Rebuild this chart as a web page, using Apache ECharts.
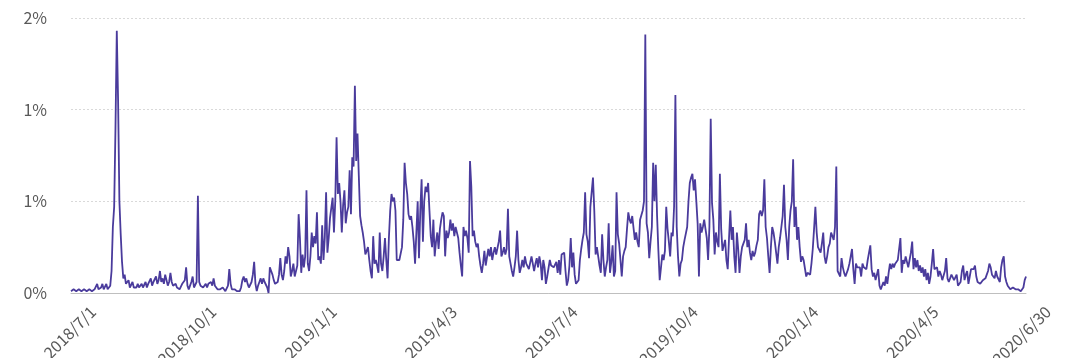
<!DOCTYPE html>
<html><head><meta charset="utf-8">
<script src="https://cdn.jsdelivr.net/npm/echarts@6/dist/echarts.min.js"></script>
<style>html,body{margin:0;padding:0;background:#fff}#c{width:1080px;height:358px}</style>
</head><body><div id="c"></div>
<script>
// tick labels shown on the category axis
const tickLabels = ['2018/7/1','2018/10/1','2019/1/1','2019/4/3','2019/7/4','2019/10/4','2020/1/4','2020/4/5','2020/6/30'];
// y-axis ticks (percent)
const yMin = 0, yMax = 1.5, yStep = 0.5;
// daily series values (percent), 2018/7/1 .. 2020/6/30
const rate = [
0.01,0.01,0.02,0.01,0.01,0.02,0.02,0.01,0.01,0.01,
0.02,0.01,0.01,0.01,0.02,0.01,0.01,0.02,0.02,0.03,
0.05,0.02,0.02,0.03,0.05,0.02,0.03,0.05,0.02,0.03,
0.04,0.12,0.36,0.47,0.9,1.43,1.05,0.5,0.32,0.17,
0.08,0.1,0.05,0.04,0.07,0.03,0.04,0.06,0.03,0.04,
0.03,0.05,0.03,0.02,0.05,0.03,0.04,0.06,0.03,0.05,
0.04,0.08,0.04,0.06,0.05,0.09,0.05,0.07,0.12,0.06,
0.08,0.05,0.1,0.07,0.04,0.06,0.11,0.06,0.04,0.03,
0.05,0.03,0.04,0.02,0.03,0.05,0.04,0.07,0.14,0.04,
0.02,0.04,0.06,0.09,0.03,0.02,0.06,0.53,0.06,0.04,
0.05,0.03,0.04,0.05,0.03,0.05,0.04,0.06,0.04,0.08,
0.04,0.03,0.02,0.03,0.02,0.01,0.03,0.02,0.01,0.02,
0.04,0.13,0.05,0.02,0.01,0.02,0.01,0.01,0.02,0.01,
0.03,0.07,0.09,0.06,0.08,0.05,0.03,0.04,0.06,0.1,
0.17,0.05,0.01,0.04,0.06,0.08,0.05,0.08,0.06,0.07,
0.03,0.0,0.14,0.12,0.1,0.07,0.05,0.05,0.06,0.1,
0.19,0.1,0.07,0.12,0.2,0.16,0.25,0.2,0.09,0.12,
0.16,0.09,0.12,0.15,0.43,0.3,0.11,0.21,0.14,0.2,
0.56,0.16,0.12,0.2,0.33,0.25,0.31,0.27,0.44,0.18,
0.2,0.16,0.37,0.18,0.3,0.55,0.22,0.3,0.41,0.42,
0.52,0.33,0.5,0.85,0.54,0.6,0.5,0.33,0.48,0.56,
0.38,0.44,0.47,0.67,0.43,0.74,0.69,1.13,0.72,0.87,
0.64,0.42,0.37,0.33,0.28,0.21,0.23,0.25,0.18,0.12,
0.08,0.31,0.16,0.18,0.15,0.11,0.33,0.16,0.12,0.2,
0.3,0.18,0.08,0.3,0.45,0.54,0.5,0.52,0.45,0.18,
0.18,0.18,0.17,0.25,0.4,0.71,0.6,0.54,0.43,0.4,
0.42,0.36,0.28,0.16,0.33,0.5,0.19,0.45,0.62,0.28,
0.5,0.58,0.55,0.6,0.45,0.31,0.25,0.4,0.2,0.28,
0.33,0.24,0.35,0.4,0.44,0.42,0.2,0.34,0.3,0.33,
0.4,0.34,0.38,0.31,0.36,0.33,0.3,0.22,0.15,0.09,
0.36,0.31,0.34,0.3,0.22,0.72,0.58,0.31,0.34,0.28,
0.25,0.27,0.2,0.15,0.11,0.16,0.23,0.15,0.14,0.24,
0.2,0.25,0.18,0.22,0.25,0.21,0.22,0.28,0.34,0.2,
0.22,0.25,0.21,0.24,0.46,0.2,0.16,0.12,0.09,0.14,
0.2,0.34,0.18,0.11,0.14,0.18,0.14,0.2,0.16,0.16,
0.13,0.13,0.2,0.16,0.12,0.16,0.19,0.14,0.2,0.16,
0.07,0.18,0.14,0.05,0.09,0.09,0.18,0.15,0.16,0.14,
0.13,0.17,0.11,0.18,0.1,0.21,0.22,0.22,0.12,0.04,
0.07,0.15,0.3,0.14,0.22,0.1,0.05,0.05,0.07,0.18,
0.24,0.29,0.33,0.55,0.32,0.28,0.19,0.47,0.55,0.63,
0.45,0.21,0.25,0.2,0.15,0.11,0.32,0.18,0.09,0.14,
0.18,0.38,0.11,0.17,0.26,0.09,0.12,0.55,0.32,0.27,
0.27,0.09,0.2,0.23,0.25,0.35,0.44,0.4,0.38,0.42,
0.42,0.29,0.33,0.28,0.25,0.4,0.41,0.45,0.5,1.41,
0.38,0.33,0.19,0.28,0.36,0.71,0.5,0.7,0.42,0.23,
0.07,0.14,0.21,0.18,0.23,0.47,0.35,0.28,0.2,0.33,
0.31,0.47,1.08,0.36,0.2,0.09,0.16,0.18,0.25,0.29,
0.29,0.36,0.5,0.6,0.63,0.65,0.56,0.62,0.5,0.38,
0.09,0.38,0.33,0.36,0.4,0.35,0.3,0.18,0.36,0.95,
0.49,0.4,0.21,0.33,0.28,0.25,0.65,0.35,0.23,0.26,
0.29,0.18,0.13,0.3,0.45,0.29,0.36,0.2,0.11,0.33,
0.24,0.11,0.2,0.25,0.24,0.29,0.38,0.25,0.29,0.22,
0.18,0.23,0.2,0.22,0.26,0.29,0.43,0.45,0.42,0.45,
0.62,0.36,0.3,0.2,0.11,0.25,0.36,0.33,0.28,0.22,
0.16,0.25,0.3,0.36,0.42,0.59,0.36,0.29,0.18,0.36,
0.45,0.5,0.73,0.36,0.47,0.29,0.36,0.25,0.17,0.2,
0.18,0.19,0.09,0.11,0.1,0.1,0.16,0.24,0.35,0.47,
0.33,0.25,0.24,0.22,0.27,0.33,0.2,0.16,0.2,0.25,
0.27,0.33,0.31,0.29,0.36,0.69,0.12,0.11,0.09,0.19,
0.14,0.11,0.09,0.09,0.13,0.16,0.2,0.24,0.13,0.05,
0.16,0.14,0.13,0.14,0.09,0.16,0.14,0.14,0.13,0.18,
0.22,0.26,0.13,0.09,0.11,0.07,0.07,0.13,0.04,0.02,
0.02,0.06,0.04,0.09,0.05,0.11,0.16,0.13,0.16,0.14,
0.16,0.15,0.18,0.24,0.3,0.11,0.18,0.16,0.2,0.17,
0.14,0.18,0.22,0.28,0.13,0.19,0.14,0.18,0.12,0.15,
0.11,0.14,0.09,0.13,0.07,0.11,0.05,0.09,0.16,0.24,
0.13,0.12,0.14,0.09,0.12,0.1,0.07,0.08,0.12,0.19,
0.08,0.06,0.06,0.1,0.09,0.07,0.07,0.1,0.04,0.05,
0.06,0.12,0.15,0.07,0.1,0.12,0.05,0.09,0.13,0.12,
0.13,0.15,0.09,0.06,0.05,0.05,0.04,0.07,0.06,0.08,
0.1,0.12,0.16,0.14,0.1,0.09,0.08,0.12,0.09,0.09,
0.06,0.14,0.18,0.2,0.09,0.06,0.04,0.03,0.02,0.02,
0.03,0.03,0.02,0.03,0.02,0.02,0.01,0.01,0.03,0.07,
0.09
];
// daily categories from the first date
const startDate = [2018, 7, 1];
const categories = [];
(function () {
  let t = Date.UTC(startDate[0], startDate[1] - 1, startDate[2]);
  for (let i = 0; i < rate.length; i++) {
    const d = new Date(t);
    categories.push(d.getUTCFullYear() + '/' + (d.getUTCMonth() + 1) + '/' + d.getUTCDate());
    t += 86400000;
  }
})();

const FONT = 'Noto Sans CJK SC';
const chart = echarts.init(document.getElementById('c'), null, { renderer: 'canvas' });
const gL = 71, gR = 54, gT = 18, gB = 65, labelShift = 22;
chart.setOption({
  animation: false,
  backgroundColor: '#ffffff',
  textStyle: { fontFamily: FONT },
  grid: [
    { left: gL, right: gR, top: gT, bottom: gB, outerBoundsMode: 'none', containLabel: false },
    { left: gL + labelShift, right: gR - labelShift, top: gT, bottom: gB, outerBoundsMode: 'none', containLabel: false }
  ],
  xAxis: [
    {
      type: 'category', gridIndex: 0, data: categories, boundaryGap: false,
      axisLine: { show: true, lineStyle: { color: '#bfbfbf', width: 1 } },
      axisTick: { show: false },
      axisLabel: { show: false }
    },
    {
      type: 'category', gridIndex: 1, data: categories, boundaryGap: false,
      axisLine: { show: false }, axisTick: { show: false },
      axisLabel: {
        show: true, rotate: 45, margin: 16,
        interval: (idx, val) => tickLabels.indexOf(val) >= 0,
        color: '#595959', fontSize: 16, fontFamily: FONT
      }
    }
  ],
  yAxis: [
    {
      type: 'value', gridIndex: 0, min: yMin, max: yMax, interval: yStep,
      axisLine: { show: false }, axisTick: { show: false },
      axisLabel: { margin: 24, color: '#595959', fontSize: 16, fontFamily: FONT,
        formatter: v => Math.round(v) + '%' },
      splitLine: { show: true, lineStyle: { color: '#d9d9d9', type: [2, 2], width: 1 } }
    },
    { type: 'value', gridIndex: 1, min: yMin, max: yMax, show: false }
  ],
  series: [{
    type: 'line', xAxisIndex: 0, yAxisIndex: 0, data: rate,
    symbol: 'none', smooth: false,
    lineStyle: { color: '#4a3b9c', width: 1.8 },
    itemStyle: { color: '#4a3b9c' }
  }]
});
</script></body></html>
